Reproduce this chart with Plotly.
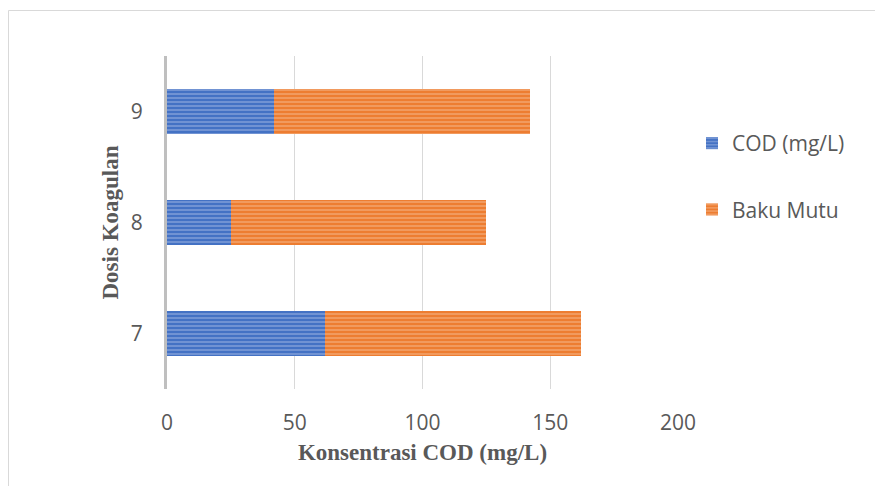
import plotly.graph_objects as go

categories = ["7", "8", "9"]
cod_values = [62, 25, 42]
baku_mutu = [100, 100, 100]
x_ticks = [0, 50, 100, 150, 200]

OFF = 8  # page body margin
W, H = 883 - OFF, 486 - OFF
L, R, T, B = 167 - OFF, W - (678 - OFF), 56 - OFF, H - (389 - OFF)
pw, ph = W - L - R, H - T - B

def px_x(px):
    return (px - OFF - L) / pw

def px_y(py):
    return (H - B - (py - OFF)) / ph

fig = go.Figure()
fig.add_trace(go.Bar(
    y=categories, x=cod_values, orientation="h", name="COD (mg/L)",
    legendgroup="a",
    marker=dict(color="#4472C4", line=dict(width=0),
                pattern=dict(shape="-", size=4, solidity=0.4,
                             fgcolor="#b4c7ea", bgcolor="#4472C4")),
))
fig.add_trace(go.Bar(
    y=categories, x=baku_mutu, orientation="h", name="Baku Mutu",
    legendgroup="b",
    marker=dict(color="#ED7D31", line=dict(width=0),
                pattern=dict(shape="-", size=4, solidity=0.4,
                             fgcolor="#f8c6a3", bgcolor="#ED7D31")),
))

fig.update_layout(
    width=W, height=H,
    margin=dict(l=L, r=R, t=T, b=B),
    barmode="stack", bargap=0.6,
    paper_bgcolor="white", plot_bgcolor="white",
    font=dict(family="Open Sans", size=21, color="#595959"),
    showlegend=True,
    legend=dict(x=px_x(692), y=px_y(123), xanchor="left", yanchor="top",
                traceorder="grouped", tracegroupgap=36,
                font=dict(size=21, color="#595959"), itemwidth=30),
    xaxis=dict(range=[0, 200], tickvals=x_ticks, showgrid=True,
               gridcolor="#d9d9d9", gridwidth=1, zeroline=False,
               showline=False, ticks="outside", ticklen=15, tickcolor="rgba(0,0,0,0)",
               tickfont=dict(size=21, color="#595959"),
               title=dict(text="<b>Konsentrasi COD (mg/L)</b>", standoff=8,
                          font=dict(family="Liberation Serif", size=23, color="#595959"))),
    yaxis=dict(categoryorder="array", categoryarray=categories,
               showline=True, linecolor="#bfbfbf", linewidth=3,
               showgrid=False, ticks="outside", ticklen=17, tickcolor="rgba(0,0,0,0)",
               tickfont=dict(size=21, color="#595959"),
               title=dict(text="<b>Dosis Koagulan</b>", standoff=6,
                          font=dict(family="Liberation Serif", size=23, color="#595959"))),
    shapes=[
        dict(type="line", xref="paper", yref="paper",
             x0=px_x(8.5), x1=px_x(900), y0=px_y(10.5), y1=px_y(10.5),
             line=dict(color="#d9d9d9", width=1)),
        dict(type="line", xref="paper", yref="paper",
             x0=px_x(8.5), x1=px_x(8.5), y0=px_y(10.5), y1=px_y(500),
             line=dict(color="#d9d9d9", width=1)),
    ],
)

fig.write_html("out.html")
